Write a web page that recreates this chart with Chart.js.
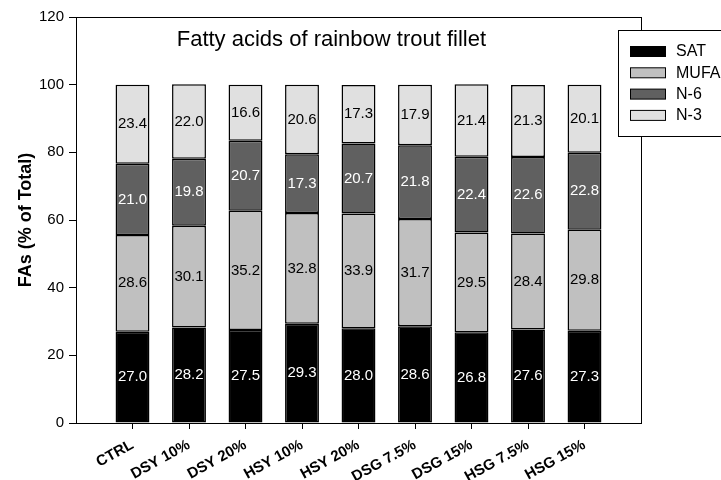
<!doctype html>
<html lang="en">
  <head>
    <meta charset="utf-8">
    <style>
      * { margin: 0; padding: 0; }
      body { background: #fff; }
      .chartBox { width: 721px; height: 480px; }
    </style>
  </head>
  <body>
    <div class="chartBox"><canvas id="myChart" width="721" height="480"></canvas></div>
    <script src="https://cdn.jsdelivr.net/npm/chart.js/dist/chart.umd.min.js"></script>
    <script>
// data
const groups = ['CTRL', 'DSY 10%', 'DSY 20%', 'HSY 10%', 'HSY 20%', 'DSG 7.5%', 'DSG 15%', 'HSG 7.5%', 'HSG 15%'];
const sat  = [27.0, 28.2, 27.5, 29.3, 28.0, 28.6, 26.8, 27.6, 27.3];
const mufa = [28.6, 30.1, 35.2, 32.8, 33.9, 31.7, 29.5, 28.4, 29.8];
const n6   = [21.0, 19.8, 20.7, 17.3, 20.7, 21.8, 22.4, 22.6, 22.8];
const n3   = [23.4, 22.0, 16.6, 20.6, 17.3, 17.9, 21.4, 21.3, 20.1];
const yTicks = [0, 20, 40, 60, 80, 100, 120];

const FONT = '"Liberation Sans", Arial, sans-serif';

const series = [
  { label: 'SAT',  values: sat,  color: '#000000', text: '#ffffff' },
  { label: 'MUFA', values: mufa, color: '#c0c0c0', text: '#000000' },
  { label: 'N-6',  values: n6,   color: '#606060', text: '#ffffff' },
  { label: 'N-3',  values: n3,   color: '#e0e0e0', text: '#000000' }
];

const data = {
  datasets: series.map(s => ({
    label: s.label,
    data: s.values.map((v, i) => ({ x: i + 1, y: v })),
    backgroundColor: s.color,
    borderColor: '#000000',
    borderWidth: 1.5,
    borderSkipped: false,
    barPercentage: 0.6,
    categoryPercentage: 1.0,
    textColor: s.text
  }))
};

// frame around plot area + inner title
const frame = {
  id: 'frame',
  afterDraw(chart) {
    const { ctx, chartArea: { top, bottom, left, right } } = chart;
    ctx.save();
    ctx.strokeStyle = '#000';
    ctx.lineWidth = 1;
    ctx.strokeRect(left + 0.5, top + 0.5, right - left, bottom - top);
    ctx.font = '22px ' + FONT;
    ctx.fillStyle = '#000';
    ctx.textAlign = 'center';
    ctx.textBaseline = 'middle';
    ctx.fillText('Fatty acids of rainbow trout fillet', left + (right - left) * 0.452, top + 23);
    ctx.restore();
  }
};

// value labels inside segments
const segLabels = {
  id: 'segLabels',
  afterDatasetsDraw(chart) {
    const { ctx } = chart;
    ctx.save();
    ctx.font = '15px ' + FONT;
    ctx.textAlign = 'center';
    ctx.textBaseline = 'middle';
    chart.data.datasets.forEach((ds, di) => {
      chart.getDatasetMeta(di).data.forEach((bar, i) => {
        const y = (bar.y + bar.base) / 2;
        const txt = ds.data[i].y.toFixed(1);
        ctx.fillStyle = ds.textColor;
        ctx.fillText(txt, bar.x, y);
      });
    });
    ctx.restore();
  }
};

// legend box
const legendBox = {
  id: 'legendBox',
  afterDraw(chart) {
    const { ctx } = chart;
    ctx.save();
    ctx.fillStyle = '#fff';
    ctx.fillRect(618.5, 30.5, 110, 106);
    ctx.strokeStyle = '#000';
    ctx.lineWidth = 1;
    ctx.strokeRect(618.5, 30.5, 110, 106);
    ctx.font = '16px ' + FONT;
    ctx.textBaseline = 'middle';
    ctx.textAlign = 'left';
    chart.data.datasets.forEach((ds, i) => {
      const y = 46 + i * 21.3;
      ctx.fillStyle = ds.backgroundColor;
      ctx.fillRect(630.5, y + 0.5, 35, 10);
      ctx.strokeRect(630.5, y + 0.5, 35, 10);
      ctx.fillStyle = '#000';
      ctx.fillText(ds.label, 676, y + 6);
    });
    ctx.restore();
  }
};

const config = {
  type: 'bar',
  data,
  options: {
    responsive: false,
    animation: false,
    layout: { padding: { left: 0, right: 80, top: 17, bottom: 0 } },
    scales: {
      x: {
        type: 'linear',
        stacked: true,
        offset: false,
        min: 0,
        max: 10,
        afterBuildTicks(scale) {
          scale.ticks = groups.map((g, i) => ({ value: i + 1 }));
        },
        afterFit(scale) { scale.height = 57; },
        grid: { display: true, offset: false, drawOnChartArea: false, drawTicks: true, tickLength: 6, color: '#000' },
        border: { display: true, color: '#000' },
        ticks: {
          autoSkip: false,
          minRotation: 29,
          maxRotation: 29,
          color: '#000',
          padding: 7,
          font: { family: FONT, size: 15, weight: 'bold' },
          callback: v => groups[v - 1]
        }
      },
      y: {
        stacked: true,
        min: 0,
        max: 120,
        afterBuildTicks(scale) {
          scale.ticks = yTicks.map(v => ({ value: v }));
        },
        afterFit(scale) { scale.width = 76; },
        grid: { display: true, drawOnChartArea: false, drawTicks: true, tickLength: 7, color: '#000' },
        border: { display: true, color: '#000' },
        ticks: { color: '#000', padding: 5, font: { family: FONT, size: 15 } },
        title: {
          display: true,
          text: 'FAs (% of Total)',
          color: '#000',
          padding: { top: 15, bottom: 0 },
          font: { family: FONT, size: 18, weight: 'bold' }
        }
      }
    },
    plugins: {
      legend: { display: false },
      tooltip: { enabled: false }
    }
  },
  plugins: [frame, segLabels, legendBox]
};

const myChart = new Chart(document.getElementById('myChart'), config);
    </script>
  </body>
</html>
